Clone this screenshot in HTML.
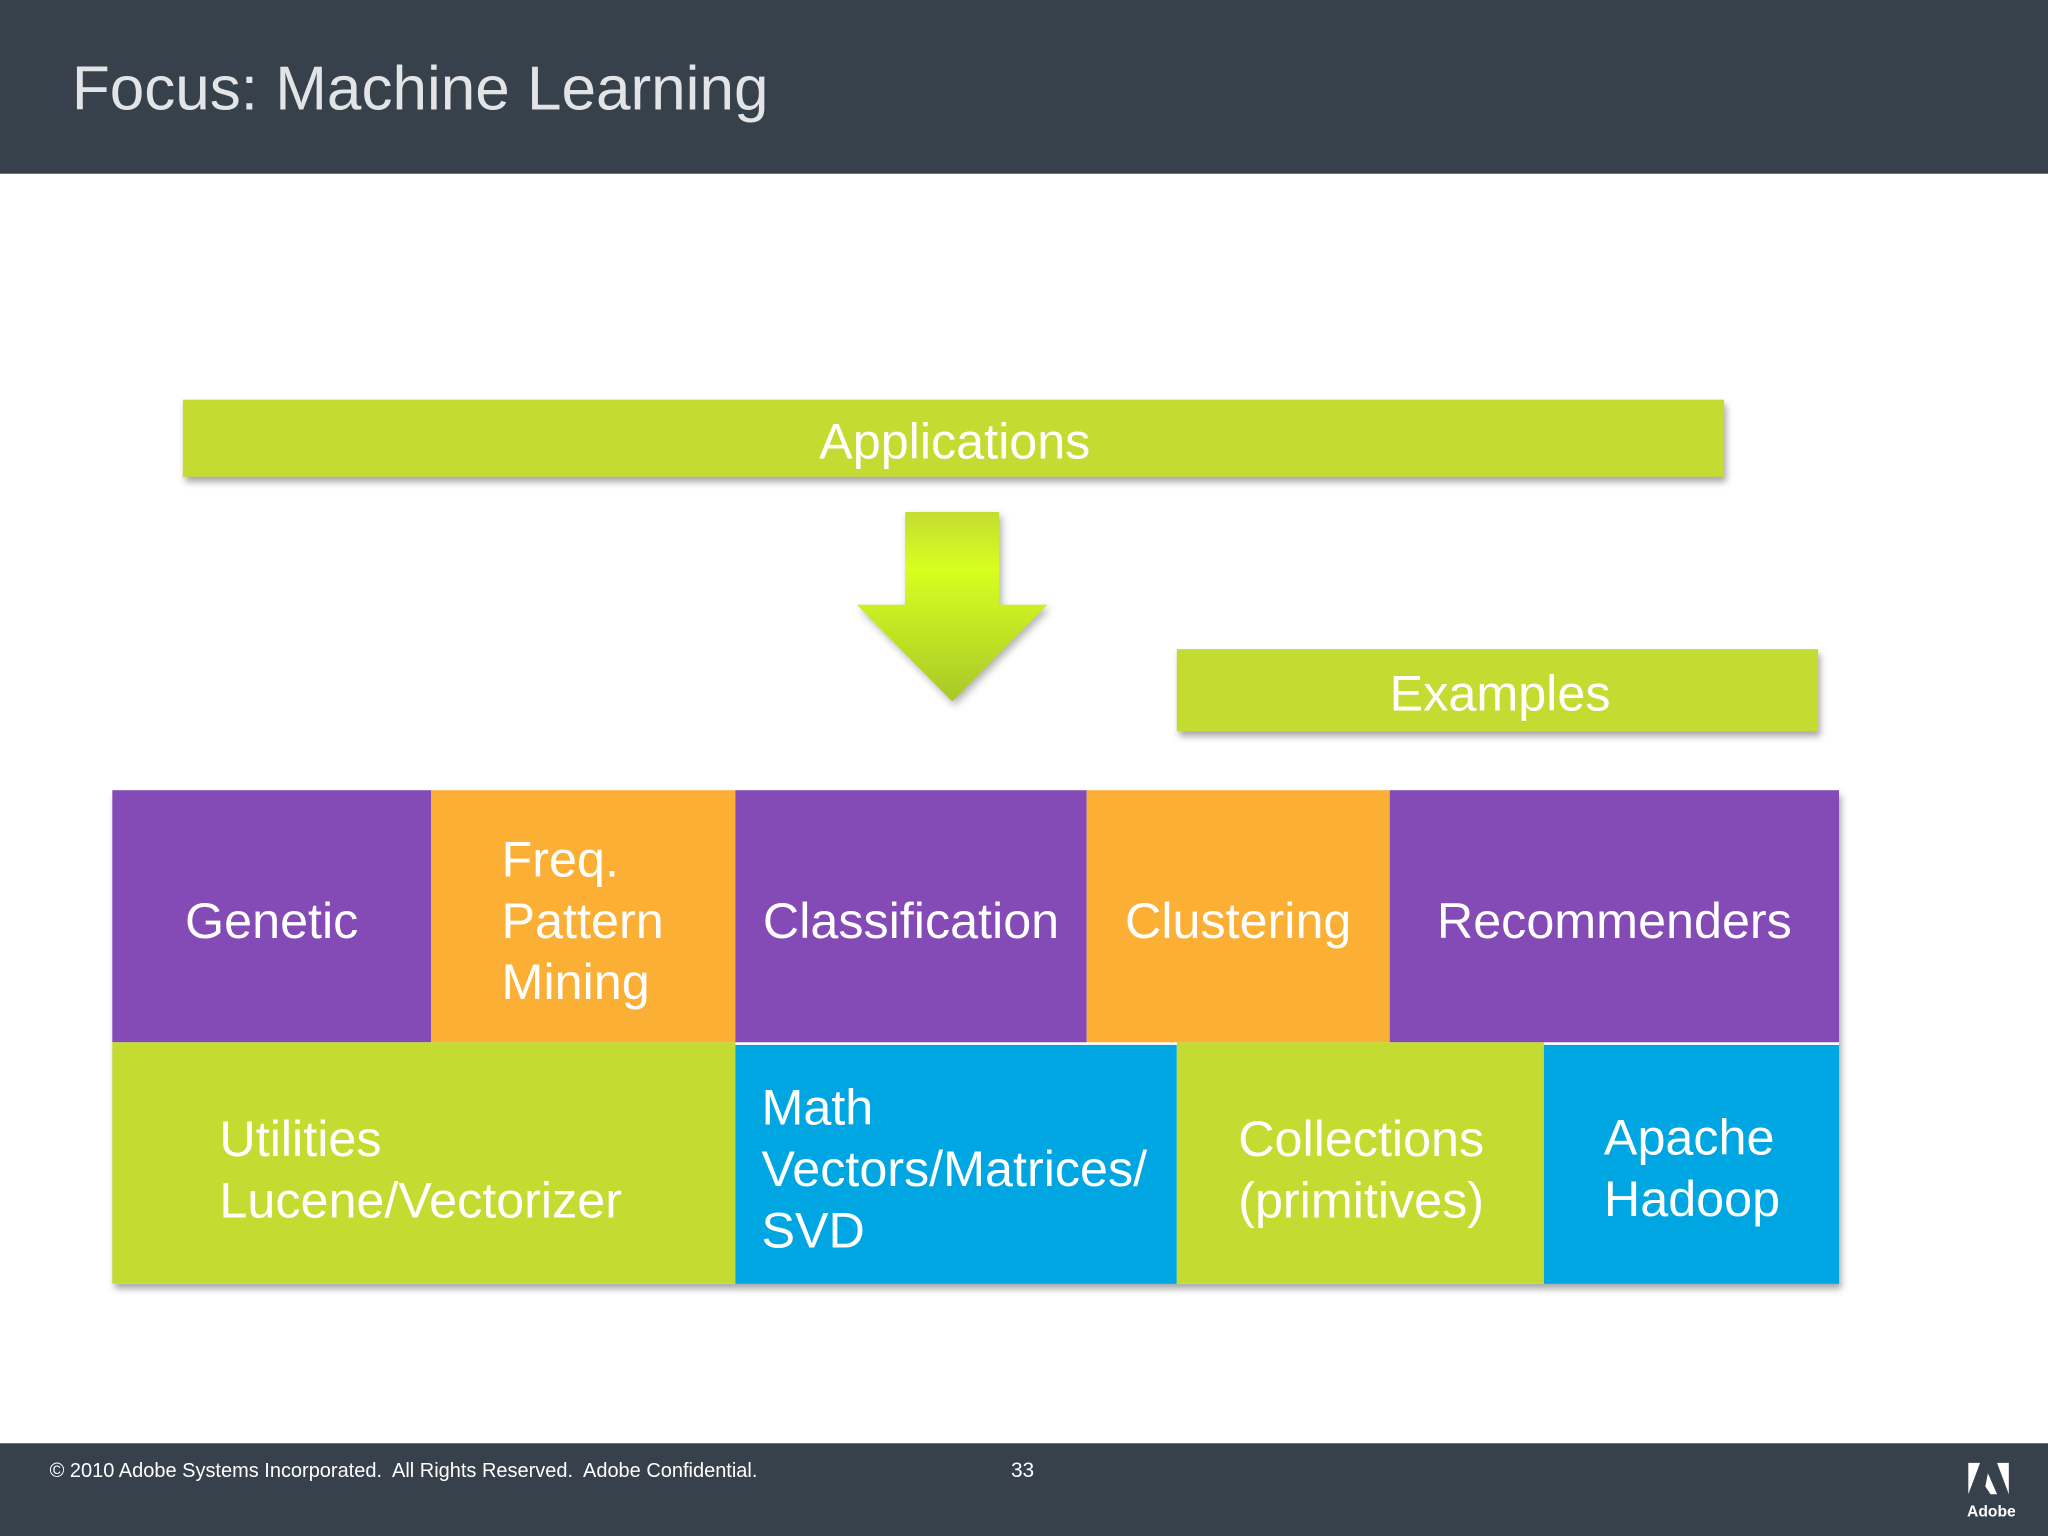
<!DOCTYPE html>
<html><head><meta charset="utf-8"><style>
html,body{margin:0;padding:0;background:#fff;overflow:hidden}
#w{width:1568px;height:1176px;position:relative;transform:scale(1.306122);transform-origin:0 0;font-family:"Liberation Sans",sans-serif}
.a{position:absolute;box-sizing:border-box}
.t{color:#fff;font-size:38.5px;line-height:47px;display:flex;align-items:center}
.p{background:#844ab5}.o{background:#fbaf35}.g{background:#c4dc32}.b{background:#00a6e2}
.sh{box-shadow:2px 4px 5px rgba(0,0,0,0.35)}
</style></head><body><div id="w">
<div class="a" style="left:0;top:0;width:1568px;height:133px;background:#36414b"></div>
<div class="a" style="left:55px;top:41px;font-size:47.5px;color:#e2e4e6">Focus: Machine Learning</div>

<div class="a g sh t" style="left:140px;top:306px;width:1180px;height:59px;justify-content:center;padding-left:2px;padding-top:6px">Applications</div>
<svg class="a" style="left:650px;top:388px" width="160" height="156">
<defs><linearGradient id="gr" x1="0" y1="0" x2="0" y2="1"><stop offset="0" stop-color="#c4dc32"/><stop offset="0.3" stop-color="#d8ff20"/><stop offset="1" stop-color="#a8c828"/></linearGradient></defs>
<polygon points="43,4 115,4 115,75 152,75 79,149 6,75 43,75" fill="url(#gr)" style="filter:drop-shadow(2px 3px 3px rgba(0,0,0,0.3))"/>
</svg>
<div class="a g sh t" style="left:901px;top:497px;width:491px;height:63px;justify-content:center;padding-left:4px;padding-top:6px">Examples</div>

<div class="a sh" style="left:86px;top:605px;width:1322px;height:378px"></div>
<div class="a p t" style="left:86px;top:605px;width:244px;height:193px;justify-content:center;padding-top:8px">Genetic</div>
<div class="a o t" style="left:330px;top:605px;width:233px;height:193px;padding-left:54px;padding-top:8px">Freq.<br>Pattern<br>Mining</div>
<div class="a p t" style="left:563px;top:605px;width:269px;height:193px;justify-content:center;padding-top:8px">Classification</div>
<div class="a o t" style="left:832px;top:605px;width:232px;height:193px;justify-content:center;padding-top:8px">Clustering</div>
<div class="a p t" style="left:1064px;top:605px;width:344px;height:193px;justify-content:center;padding-top:8px">Recommenders</div>

<div class="a g t" style="left:86px;top:798px;width:477px;height:185px;padding-left:82px;padding-top:10px">Utilities<br>Lucene/Vectorizer</div>
<div class="a b t" style="left:563px;top:800px;width:338px;height:183px;padding-left:20px;padding-top:7px">Math<br>Vectors/Matrices/<br>SVD</div>
<div class="a g t" style="left:901px;top:798px;width:281px;height:185px;padding-left:47px;padding-top:10px">Collections<br>(primitives)</div>
<div class="a b t" style="left:1182px;top:800px;width:226px;height:183px;padding-left:46px;padding-top:7px">Apache<br>Hadoop</div>

<div class="a" style="left:0;top:1105px;width:1568px;height:71px;background:#36414b"></div>
<div class="a" style="left:38px;top:1118px;font-size:15.3px;color:#fff">© 2010 Adobe Systems Incorporated.&nbsp; All Rights Reserved.&nbsp; Adobe Confidential.</div>
<div class="a" style="left:774px;top:1118px;font-size:16px;color:#fff">33</div>
<svg class="a" style="left:1505px;top:1118px" width="36" height="34"><polygon points="2,2 11,2 2,26" fill="#fff"/><polygon points="24,2 33,2 33,26" fill="#fff"/><polygon points="17,10 24,26 19,26 15,20" fill="#fff"/></svg>
<div class="a" style="left:1506px;top:1150px;font-size:12px;color:#fff;font-weight:bold">Adobe</div>
</div></body></html>
